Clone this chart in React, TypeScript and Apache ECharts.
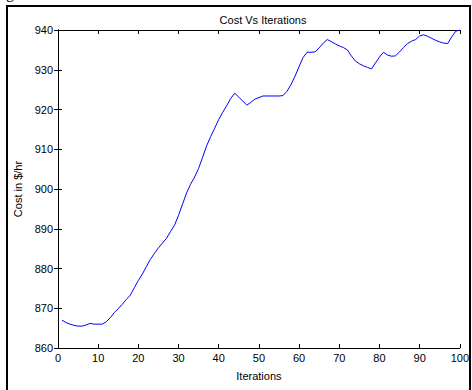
import React, { useEffect, useRef } from "react";
import * as echarts from "echarts";

const iterations: number[] = Array.from({ length: 100 }, (_, i) => i + 1);
const costValues: number[] = [
  867.0, 866.4, 866.0, 865.7, 865.5, 865.5, 865.8, 866.2, 866.0, 866.0,
  866.0, 866.6, 867.6, 868.9, 869.9, 871.0, 872.2, 873.3, 875.2, 877.0,
  878.6, 880.5, 882.3, 883.8, 885.2, 886.4, 887.6, 889.3, 890.9, 893.4,
  896.2, 899.0, 901.2, 903.0, 905.2, 908.0, 910.9, 913.2, 915.3, 917.5,
  919.3, 921.0, 922.8, 924.1, 923.1, 922.1, 921.1, 921.8, 922.6, 923.0,
  923.4, 923.4, 923.4, 923.4, 923.4, 923.5, 924.6, 926.3, 928.4, 930.8,
  933.1, 934.4, 934.4, 934.5, 935.5, 936.7, 937.6, 937.1, 936.5, 936.0,
  935.6, 935.0, 933.5, 932.2, 931.5, 931.0, 930.6, 930.2, 931.7, 933.2,
  934.4, 933.7, 933.4, 933.5, 934.5, 935.6, 936.6, 937.2, 937.6, 938.5,
  938.8, 938.4, 937.9, 937.4, 937.0, 936.7, 936.6, 938.3, 939.7, 940.0,
];
const xMin = 0, xMax = 100, xStep = 10;
const yMin = 860, yMax = 940, yStep = 10;

const FONT = "'Liberation Sans', Arial, sans-serif";

export default function App() {
  const ref = useRef<HTMLDivElement>(null);
  useEffect(() => {
    if (!ref.current) return;
    const chart = echarts.init(ref.current, null, { renderer: "svg" });
    const axisLine = { show: true, lineStyle: { color: "#000", width: 1 } };
    const tick = { show: true, inside: true, length: 4, lineStyle: { color: "#000", width: 1 } };
    const label = { color: "#000", fontFamily: FONT, fontSize: 11 };
    chart.setOption({
      animation: false,
      backgroundColor: "#fff",
      title: {
        text: "Cost Vs Iterations",
        left: 258,
        top: 9,
        textAlign: "center",
        textStyle: { fontFamily: FONT, fontSize: 11, fontWeight: "normal", color: "#000" },
      },
      grid: { left: 58, top: 30, right: 11, bottom: 42, containLabel: false },
      xAxis: [
        {
          type: "value", position: "bottom", min: xMin, max: xMax, interval: xStep,
          axisLine, axisTick: tick, splitLine: { show: false },
          axisLabel: { ...label, margin: 4 },
          name: "Iterations", nameLocation: "middle", nameGap: 22,
          nameTextStyle: { ...label },
        },
        {
          type: "value", position: "top", min: xMin, max: xMax, interval: xStep,
          axisLine, axisTick: tick, splitLine: { show: false }, axisLabel: { show: false },
        },
      ],
      yAxis: [
        {
          type: "value", position: "left", min: yMin, max: yMax, interval: yStep,
          axisLine, axisTick: tick, splitLine: { show: false },
          axisLabel: { ...label, margin: 5 },
          name: "Cost in $/hr", nameLocation: "middle", nameGap: 34,
          nameTextStyle: { ...label },
        },
        {
          type: "value", position: "right", min: yMin, max: yMax, interval: yStep,
          axisLine, axisTick: tick, splitLine: { show: false }, axisLabel: { show: false },
        },
      ],
      series: [
        {
          type: "line",
          data: iterations.map((it, i) => [it, costValues[i]]),
          showSymbol: false,
          lineStyle: { color: "#0000ff", width: 1 },
          itemStyle: { color: "#0000ff" },
        },
      ],
      graphic: [
        {
          type: "rect",
          shape: { x: 7, y: 6, width: 463, height: 400 },
          style: { fill: "none", stroke: "#000", lineWidth: 2 },
          silent: true,
        },
        {
          type: "text",
          x: 6,
          y: 0,
          style: { text: "g", font: "16px 'Liberation Serif', serif", fill: "#000", textVerticalAlign: "bottom" },
          silent: true,
        },
      ],
    });
    return () => chart.dispose();
  }, []);
  return (
    <div
      ref={ref}
      style={{ position: "fixed", left: 0, top: 0, width: 472, height: 390, background: "#fff" }}
    />
  );
}
